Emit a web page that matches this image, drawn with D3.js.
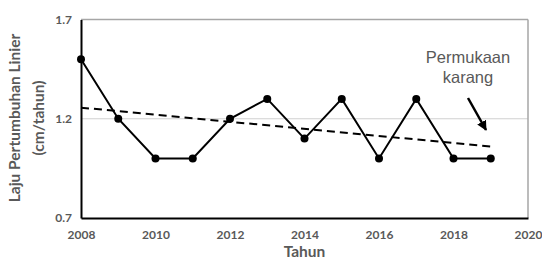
<!DOCTYPE html>
<html><head><meta charset="utf-8">
<script src="https://cdn.jsdelivr.net/npm/d3@7"></script>
<style>body{margin:0;background:#fff}svg{display:block}</style>
</head><body>
<svg id="c" width="542" height="264"></svg>
<script>
const years = [2008,2009,2010,2011,2012,2013,2014,2015,2016,2017,2018,2019];
const growth = [1.5,1.2,1.0,1.0,1.2,1.3,1.1,1.3,1.0,1.3,1.0,1.0];
const trendYears = [2008,2019];
const trendValues = [1.256,1.060];
const xTicks = [2008,2010,2012,2014,2016,2018,2020];
const yTicks = [0.7,1.2,1.7];
const annotation = ["Permukaan","karang"];

const svg = d3.select("#c");
const L=81,R=528,T=19.5,B=218;
const x = d3.scaleLinear().domain([2008,2020]).range([L,R]);
const y = d3.scaleLinear().domain([0.7,1.7]).range([B,T]);
const font = "Lato, 'Open Sans', sans-serif";

// gridlines
svg.append("g").selectAll("line").data(yTicks.slice(1)).join("line")
  .attr("x1",L).attr("x2",R).attr("y1",d=>y(d)).attr("y2",d=>y(d))
  .attr("stroke",d=>d===1.7?"#a6a6a6":"#d0d0d0").attr("stroke-width",d=>d===1.7?1.5:1);
svg.append("line").attr("x1",R).attr("x2",R).attr("y1",T).attr("y2",B)
  .attr("stroke","#a6a6a6").attr("stroke-width",1.5);

// axes
const xa = svg.append("g").attr("transform",`translate(0,${B})`)
  .call(d3.axisBottom(x).tickValues(xTicks).tickFormat(d3.format("d")).tickSize(0).tickPadding(12));
const ya = svg.append("g").attr("transform",`translate(${L},0)`)
  .call(d3.axisLeft(y).tickValues(yTicks).tickFormat(d3.format(".1f")).tickSize(0).tickPadding(9));
[xa,ya].forEach(g=>{
  g.select(".domain").attr("stroke","#000").attr("stroke-width",2);
  g.selectAll("text").attr("font-family",font).attr("font-weight","bold")
   .attr("font-size",12).attr("fill","#595959");
});

// trend line
svg.append("line")
  .attr("x1",x(trendYears[0])).attr("y1",y(trendValues[0]))
  .attr("x2",x(trendYears[1])).attr("y2",y(trendValues[1]))
  .attr("stroke","#000").attr("stroke-width",2).attr("stroke-dasharray","8,5");

// data line
const line = d3.line().x((d,i)=>x(years[i])).y(d=>y(d));
svg.append("path").datum(growth).attr("d",line)
  .attr("fill","none").attr("stroke","#000").attr("stroke-width",2);
svg.append("g").selectAll("circle").data(growth).join("circle")
  .attr("cx",(d,i)=>x(years[i])).attr("cy",d=>y(d)).attr("r",4).attr("fill","#000");

// axis titles
svg.append("text").attr("x",(L+R)/2).attr("y",257).attr("text-anchor","middle")
  .attr("font-family",font).attr("font-weight","bold").attr("font-size",15.5).attr("fill","#595959").text("Tahun");
const yt = svg.append("text").attr("transform",`translate(0,118) rotate(-90)`)
  .attr("text-anchor","middle").attr("font-family",font).attr("font-weight","bold")
  .attr("font-size",15.5).attr("fill","#595959");
yt.append("tspan").attr("x",0).attr("y",20).text("Laju Pertumbuhan Linier");
yt.append("tspan").attr("x",0).attr("y",44).text("(cm/tahun)");

// annotation
svg.append("defs").append("marker").attr("id","ah").attr("viewBox","0 0 10 10")
  .attr("refX",9).attr("refY",5).attr("markerWidth",4).attr("markerHeight",4).attr("orient","auto")
  .append("path").attr("d","M0,0L10,5L0,10z").attr("fill","#000");
const an = svg.append("text").attr("text-anchor","middle").attr("font-family","'Liberation Sans', Arial, sans-serif")
  .attr("font-size",16.5).attr("fill","#595959");
an.selectAll("tspan").data(annotation).join("tspan").attr("x",468).attr("y",(d,i)=>63+i*20).text(d=>d);
svg.append("line").attr("x1",468).attr("y1",98).attr("x2",486).attr("y2",130)
  .attr("stroke","#000").attr("stroke-width",2.5).attr("marker-end","url(#ah)");
</script>
</body></html>
